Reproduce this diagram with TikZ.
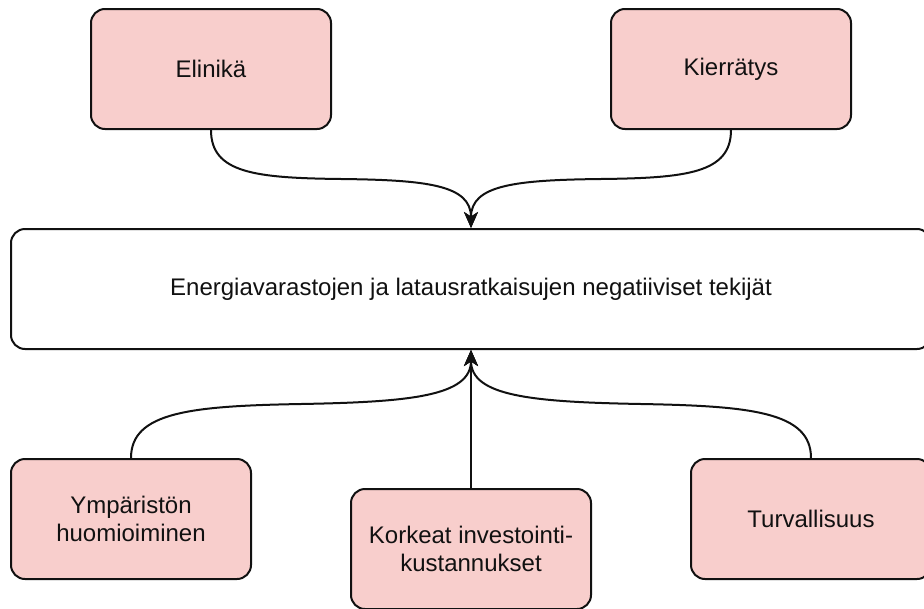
\documentclass[tikz,border=0pt]{standalone}
\usepackage{fontspec}
\setmainfont{Liberation Sans}
\usetikzlibrary{arrows.meta}
\definecolor{boxfill}{HTML}{F8CECC}
\definecolor{inkc}{HTML}{111111}
\begin{document}
\begin{tikzpicture}[x=1pt,y=-1pt,
  box/.style={draw=inkc, line width=2pt, rounded corners=14pt, fill=boxfill,
    inner sep=0pt, align=center, text=inkc,
    minimum width=240pt, minimum height=120pt,
    font=\fontsize{24}{28.8}\selectfont},
  mainbox/.style={box, fill=white, minimum width=920pt},
  conn/.style={draw=inkc, line width=2pt, -{Stealth[length=16pt,width=14pt,inset=4.5pt]}}]
\useasboundingbox (0,0) rectangle (924,608);
\clip (0,0) rectangle (924,608);

\node[box] (elin) at (211,69) {Elinikä};
\node[box] (kier) at (731,69) {Kierrätys};
\node[mainbox] (main) at (471,289) {Energiavarastojen ja latausratkaisujen negatiiviset tekijät};
\node[box] (ymp) at (131,519) {Ympäristön\\huomioiminen};
\node[box] (kork) at (471,549) {Korkeat investointi-\\kustannukset};
\node[box] (turv) at (811,519) {Turvallisuus};

\coordinate (m1) at (341,179);
\coordinate (m2) at (601,179);
\coordinate (m3) at (301,404);
\coordinate (m4) at (641,404);

\draw[conn] (elin.south) .. controls +(0,43) and +(-86,-1) .. (m1)
  .. controls +(86,1) and +(0,-43) .. (main.north);
\draw[conn] (kier.south) .. controls +(0,43) and +(86,-1) .. (m2)
  .. controls +(-86,1) and +(0,-43) .. (main.north);
\draw[conn] (ymp.north) .. controls +(0,-46) and +(-110,2) .. (m3)
  .. controls +(110,-2) and +(0,46) .. (main.south);
\draw[conn] (turv.north) .. controls +(0,-46) and +(110,2) .. (m4)
  .. controls +(-110,-2) and +(0,46) .. (main.south);
\draw[conn] (kork.north) -- (main.south);
\end{tikzpicture}
\end{document}
